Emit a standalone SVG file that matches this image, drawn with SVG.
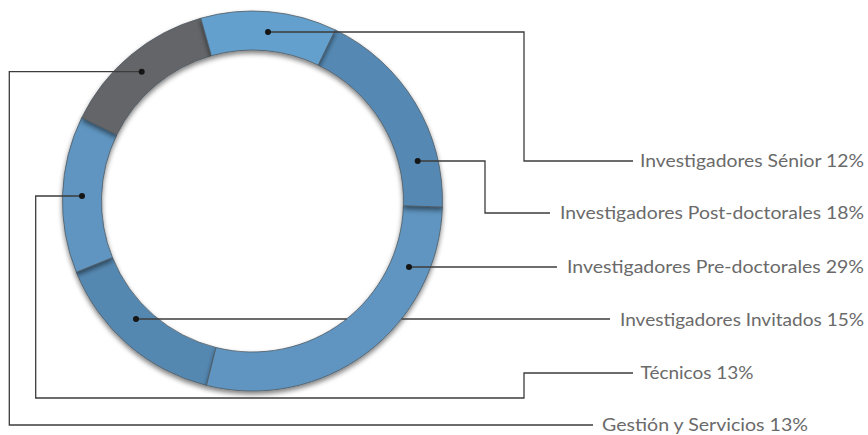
<svg xmlns="http://www.w3.org/2000/svg" width="868" height="435" viewBox="0 0 868 435">
<defs>
<filter id="sh" x="-30%" y="-30%" width="160%" height="160%">
<feGaussianBlur in="SourceAlpha" stdDeviation="2.6"/>
<feOffset dy="2.5"/>
<feComponentTransfer><feFuncA type="linear" slope="0.5"/></feComponentTransfer>
<feMerge><feMergeNode/><feMergeNode in="SourceGraphic"/></feMerge>
</filter>
</defs>
<style>
.seg{stroke:#4f5a63;stroke-width:0.8;filter:url(#sh)}
.dot{fill:#151515}
.con{fill:none;stroke:#3c3c3c;stroke-width:1.3}
.lbl{font-family:Lato,"Open Sans","Liberation Sans",sans-serif;font-size:18px;fill:#6a6a6a;text-anchor:end}
</style>
<rect width="868" height="435" fill="#ffffff"/>
<g id="ring">
<g id="invitados"><path class="seg" fill="#5588b1" d="M206.5,385.4 A190,190 0 0 1 76.3,272.2 L112.5,257.6 A151,151 0 0 0 216.0,347.5 Z"/></g>
<g id="predoc"><path class="seg" fill="#5e95c0" d="M442.4,207.0 A190,190 0 0 1 206.5,385.4 L216.0,347.5 A151,151 0 0 0 403.4,205.7 Z"/></g>
<g id="postdoc"><path class="seg" fill="#5589b3" d="M335.2,29.9 A190,190 0 0 1 442.4,207.0 L403.4,205.7 A151,151 0 0 0 318.2,65.1 Z"/></g>
<g id="tecnicos"><path class="seg" fill="#5e95c0" d="M76.3,272.2 A190,190 0 0 1 81.7,117.7 L116.8,134.8 A151,151 0 0 0 112.5,257.6 Z"/></g>
<g id="gestion"><path class="seg" fill="#646567" d="M81.7,117.7 A190,190 0 0 1 200.8,18.2 L211.4,55.7 A151,151 0 0 0 116.8,134.8 Z"/></g>
<g id="senior"><path class="seg" fill="#63a0cd" d="M200.8,18.2 A190,190 0 0 1 335.2,29.9 L318.2,65.1 A151,151 0 0 0 211.4,55.7 Z"/></g>
</g>
<g id="connectors">
<path class="con" d="M268,32 H524 V161 H633"/>
<path class="con" d="M417.7,161 H485 V213 H550"/>
<path class="con" d="M409,267 H557"/>
<path class="con" d="M136,319 H346.7 M401.4,319 H610"/>
<path class="con" d="M82,196 H35.7 V398 H524 V373 H633"/>
<path class="con" d="M141.7,71.7 H9.3 V425 H593"/>
<circle class="dot" cx="268" cy="32" r="3"/>
<circle class="dot" cx="417.7" cy="161" r="3"/>
<circle class="dot" cx="409" cy="267" r="3"/>
<circle class="dot" cx="136" cy="319" r="3"/>
<circle class="dot" cx="82" cy="196" r="3"/>
<circle class="dot" cx="141.7" cy="71.7" r="3"/>
</g>
<g id="labels">
<text class="lbl" x="864" y="167" textLength="224" lengthAdjust="spacingAndGlyphs">Investigadores Sénior 12%</text>
<text class="lbl" x="864" y="219" textLength="304" lengthAdjust="spacingAndGlyphs">Investigadores Post-doctorales 18%</text>
<text class="lbl" x="864" y="273" textLength="297" lengthAdjust="spacingAndGlyphs">Investigadores Pre-doctorales 29%</text>
<text class="lbl" x="864" y="326" textLength="244" lengthAdjust="spacingAndGlyphs">Investigadores Invitados 15%</text>
<text class="lbl" x="753.5" y="379" textLength="113" lengthAdjust="spacingAndGlyphs">Técnicos 13%</text>
<text class="lbl" x="808" y="431" textLength="206" lengthAdjust="spacingAndGlyphs">Gestión y Servicios 13%</text>
</g>
</svg>
